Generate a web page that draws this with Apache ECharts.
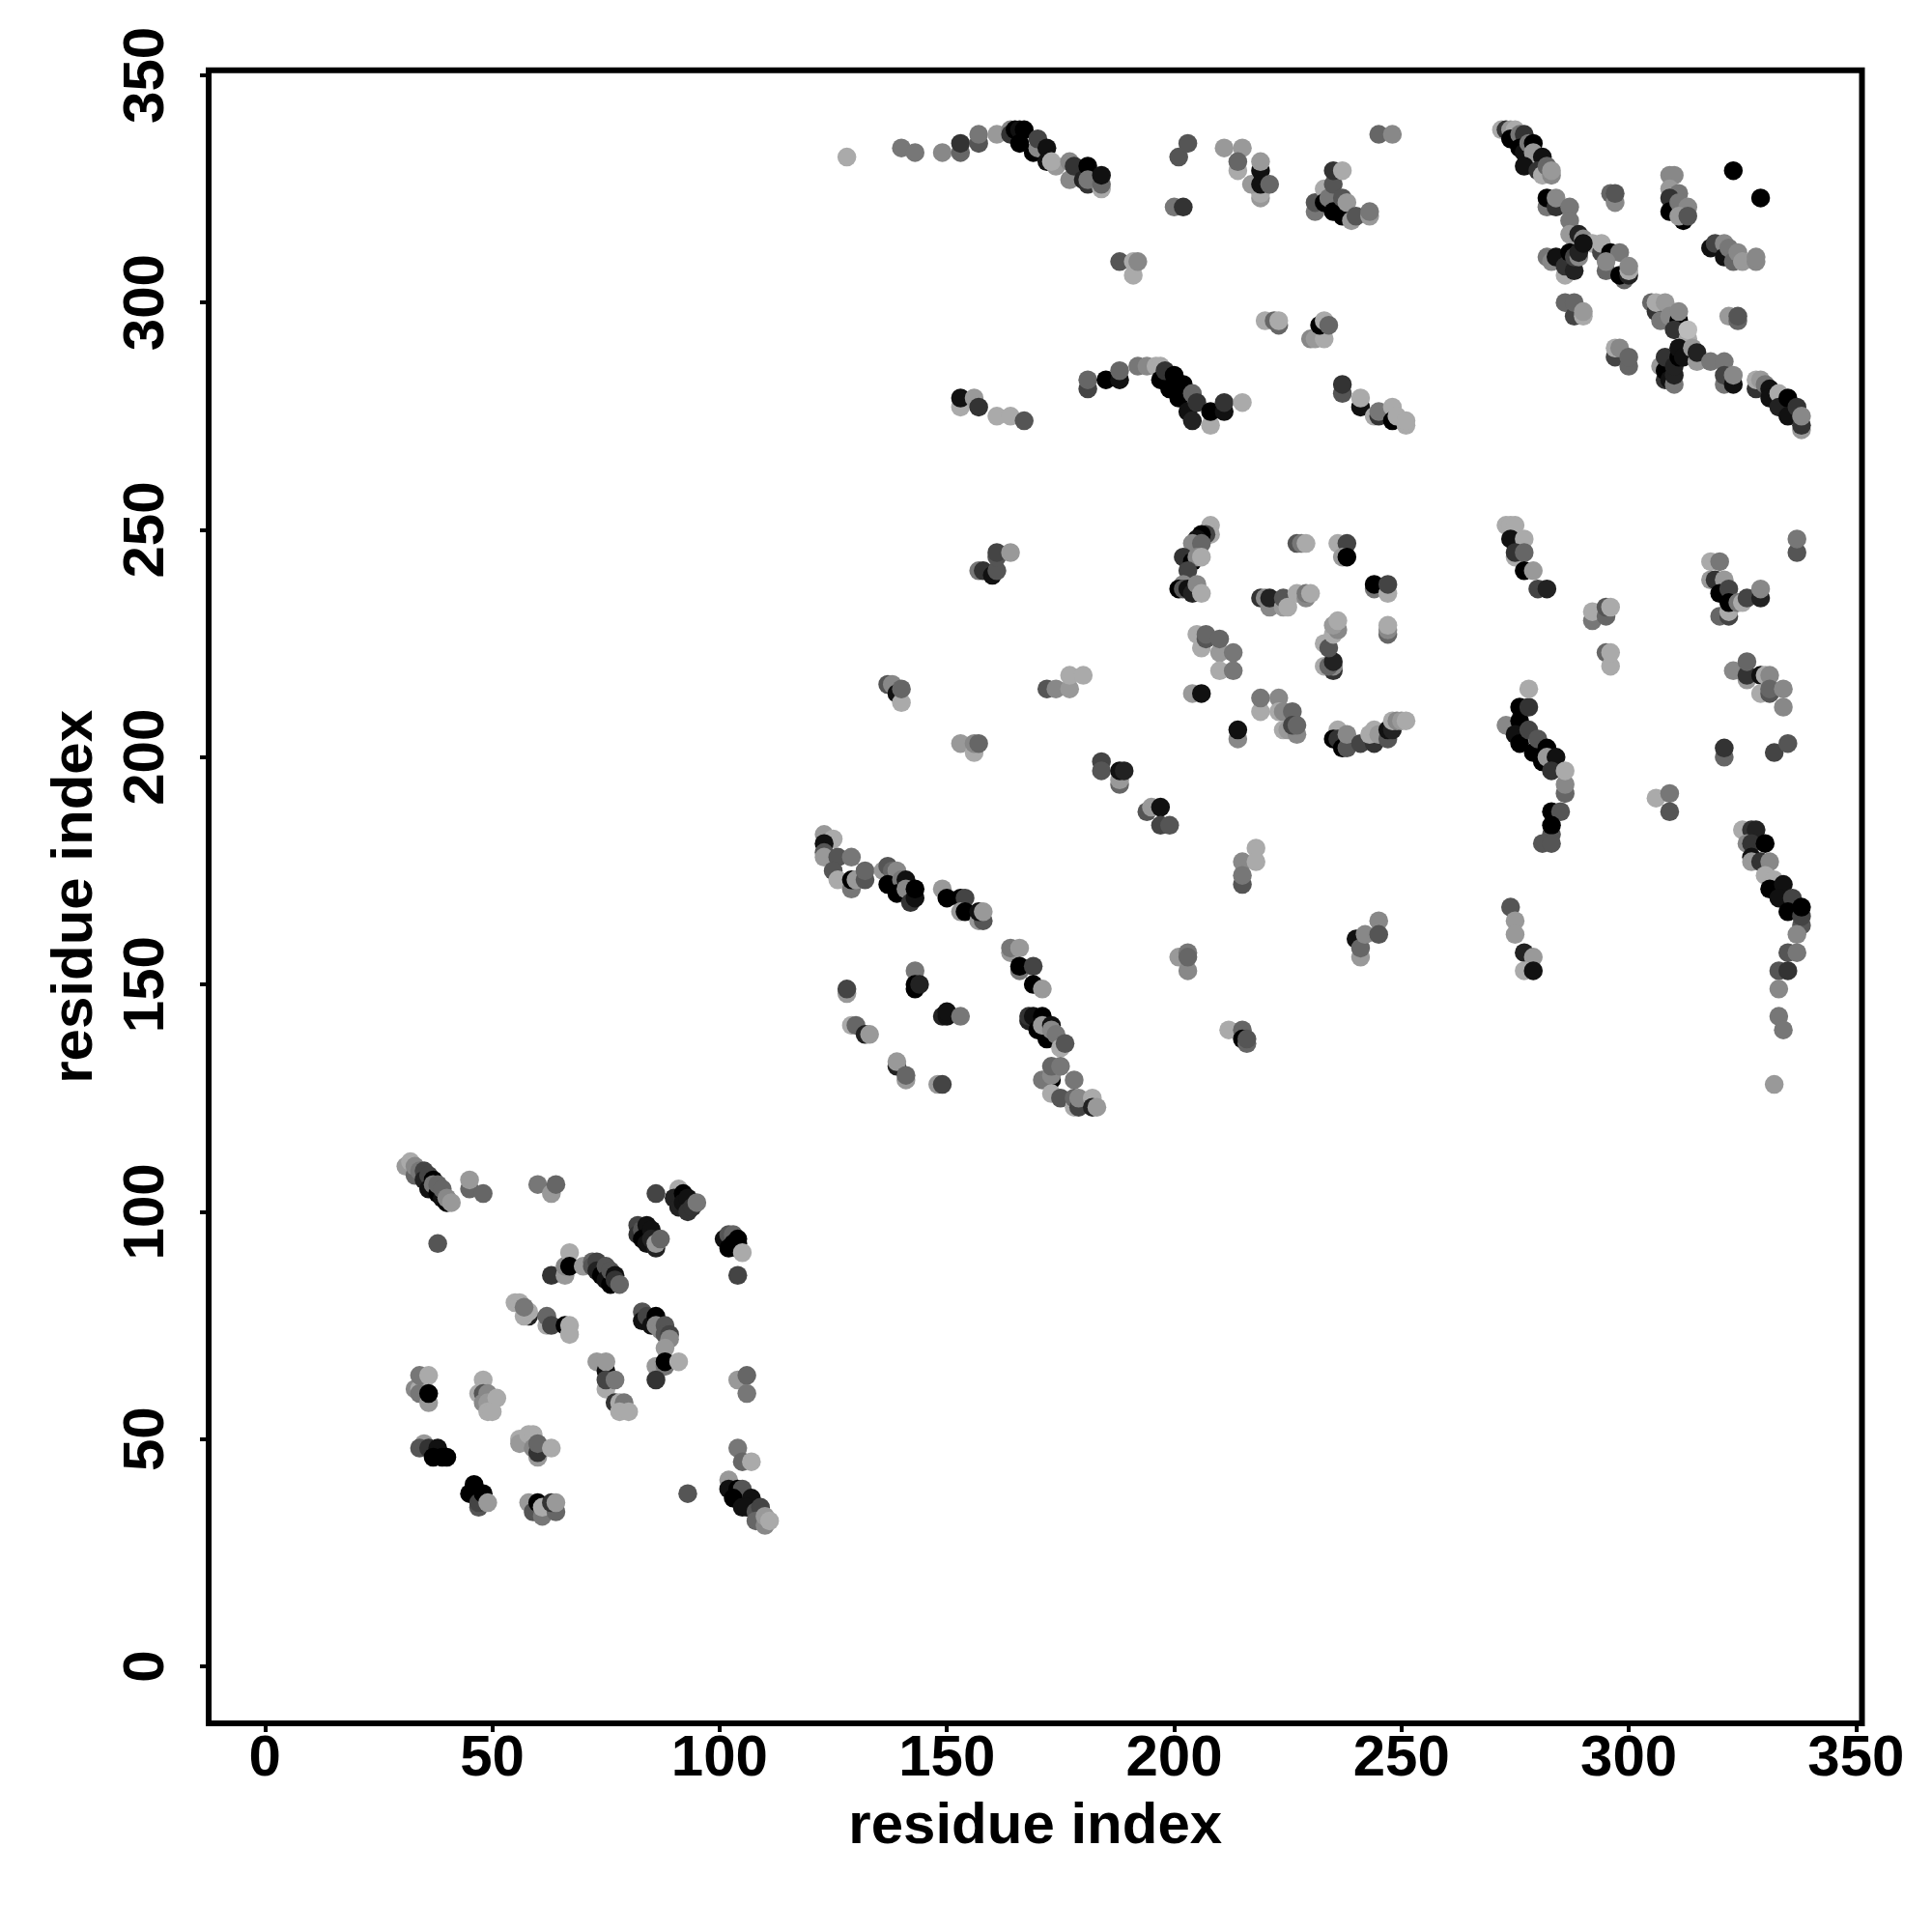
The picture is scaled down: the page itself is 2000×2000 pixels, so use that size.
<!DOCTYPE html>
<html><head><meta charset="utf-8">
<style>html,body{margin:0;padding:0;background:#fff}#c{width:2000px;height:2000px}</style>
<script src="https://cdn.jsdelivr.net/npm/echarts@6/dist/echarts.min.js"></script>
</head><body><div id="c"></div>
<script>
// each contact: [residue x, residue y, shade 0 (black) .. 11 (light grey)]
const tickValues=[0,50,100,150,200,250,300,350];
const axisTitle="residue index";
const blockLow=[
[31,110,9],[32,111,10],[33,108,6],[33,110,8],[34,109,7],[35,109,4],[35,107,2],[36,108,4],[36,105,1],[37,107,0],[37,106,7],[38,104,0],[38,106,6],[39,103,1],[39,105,6],[40,102,0],[40,103,8],[41,102,9],
[45,105,6],[45,107,9],[48,104,6],[60,106,7],[63,104,9],[64,106,6],[38,93,5],[86,104,4],
[91,105,10],[90,103,2],[92,104,0],[91,101,2],[92,102,1],[93,103,1],[93,100,3],[94,101,3],[95,102,7],
[82,97,4],[82,95,3],[83,96,5],[84,97,1],[83,94,0],[85,96,1],[84,93,1],[85,94,2],[86,92,2],[86,93,9],[87,94,6],
[101,94,1],[102,95,5],[103,95,6],[102,92,0],[103,93,0],[104,92,0],[104,94,0],[104,93,0],[105,91,10],[104,86,4],
[63,86,3],[66,86,9],[66,88,8],[67,91,10],[67,88,0],[70,88,9],[72,89,6],[72,88,5],[73,89,4],[73,87,2],[74,86,0],[75,88,5],[75,85,1],[76,84,0],[76,87,5],[77,86,1],[77,85,3],[78,84,6],
[55,80,10],[56,80,10],[58,77,2],[57,77,10],[58,78,10],[57,79,7],[62,75,10],[62,77,6],[63,75,4],[66,75,0],[67,75,10],[67,73,10],
[83,78,5],[83,76,1],[84,77,4],[85,75,1],[86,77,0],[86,75,8],[87,74,8],[88,75,5],[88,73,5],[89,73,4],[89,72,8],[88,70,9],[86,66,9],[88,66,7],[88,67,0],[91,67,10],[86,63,3],
[73,67,9],[75,65,1],[75,67,9],[75,61,10],[75,63,4],[77,63,7],[77,58,3],[78,58,10],[79,58,7],[78,56,10],[80,56,10],
[104,63,9],[106,64,6],[106,60,7],[104,48,7],[105,45,6],[107,45,10],[93,38,5],
[102,41,9],[102,39,1],[104,39,0],[105,39,5],[103,37,0],[105,35,1],[107,37,1],[106,35,1],[108,34,5],[109,35,4],[108,32,6],[110,31,8],[110,33,9],[111,32,10],
[33,61,8],[34,61,10],[34,64,7],[34,60,7],[36,58,9],[36,64,10],[36,60,0],
[48,63,10],[47,60,10],[48,60,5],[49,60,8],[48,58,8],[49,58,9],[49,56,10],[51,59,10],[50,56,10],
[56,50,10],[56,49,9],[58,51,10],[60,46,9],[59,51,10],[59,48,8],[60,47,3],[60,49,6],[63,48,10],
[35,49,9],[34,48,5],[36,48,3],[38,48,1],[37,46,0],[39,46,0],[40,46,0],
[46,40,0],[45,38,0],[47,35,5],[47,36,4],[48,38,0],[49,36,9],
[58,36,9],[59,34,5],[60,34,5],[60,36,0],[61,33,7],[61,35,10],[64,34,6],[63,36,3],[64,36,9]
];
const blockMid=[
[123,183,9],[125,182,10],[123,181,1],[123,179,5],[123,178,9],[126,178,5],[129,178,7],[125,175,5],[126,173,10],[129,171,7],[129,173,0],[130,173,9],[132,173,5],[132,175,6],
[136,175,9],[137,176,5],[138,175,6],[139,175,8],[137,172,0],[140,173,7],[139,170,0],[141,173,1],[141,171,8],[142,168,3],[143,169,1],[143,171,0],
[149,171,9],[150,169,0],[153,169,0],[154,169,4],[153,166,9],[154,166,0],[157,164,9],[158,164,5],[157,166,1],[158,166,9],
[164,157,9],[164,158,7],[166,158,9],[166,153,7],[166,154,0],[169,154,4],[169,150,0],[171,149,9],
[143,153,7],[143,149,0],[143,150,0],[144,150,2],[128,148,9],[128,149,4],[149,143,2],[150,143,1],[150,144,1],[153,143,7],
[129,141,10],[130,141,6],[132,139,2],[133,139,9],[139,132,2],[139,133,9],[141,129,9],[141,130,6],[148,128,9],[149,128,4],
[168,142,2],[168,143,3],[169,143,1],[171,143,0],[170,140,0],[172,138,0],[171,141,9],[173,141,1],[173,140,8],[174,139,7],[175,136,10],[176,137,5],
[173,129,0],[171,129,7],[173,130,8],[173,132,6],[175,132,7],[178,129,7],[173,126,10],[175,125,5],[178,123,10],[178,125,6],[179,123,4],[179,125,8],[182,125,10],[182,123,2],[183,123,9],
[194,188,5],[195,189,9],[197,189,1],[197,185,4],[199,185,5],[184,199,4],[184,197,5],[188,194,6],[188,195,9],[188,197,1],[189,197,2],
[218,180,10],[215,177,8],[218,177,10],[215,172,5],[215,174,7],
[201,156,9],[203,153,8],[203,157,7],[203,156,6],[212,140,10],[215,140,6],[215,138,0],[216,137,6],[216,138,5],
[208,251,10],[208,249,10],[207,249,4],[206,249,0],[205,248,1],[204,247,8],[206,247,6],[202,244,3],[204,243,0],[205,244,8],[206,244,10],[203,241,4],[202,238,8],[201,237,0],[202,237,5],[203,237,1],[204,236,2],[205,238,8],[206,236,10],
[227,247,5],[228,247,7],[229,247,10],[236,247,10],[238,247,4],[237,244,9],[238,244,0],[244,237,7],[244,238,0],[247,236,10],[247,238,4],[247,227,6],[247,228,8],[247,229,10],
[219,235,3],[220,235,8],[221,233,8],[221,235,2],[224,233,9],[224,235,5],[225,233,10],[227,236,10],[229,235,8],[229,236,7],[230,236,10],
[235,219,3],[235,220,8],[233,220,10],[234,220,6],[235,221,2],[233,225,10],[234,224,5],[235,227,10],[236,228,8],[235,229,9],[236,230,10],
[205,227,10],[206,224,10],[207,226,5],[207,227,6],[210,223,9],[210,226,6],[213,223,7],[210,219,10],[213,219,7],[204,214,9],[206,214,1],
[219,210,10],[219,213,7],[223,213,8],[223,210,10],[224,210,8],[226,210,6],[224,206,10],[225,206,9],[227,205,8],[226,207,4],[227,207,6],[214,204,8],[214,206,1],
[236,206,10],[235,204,0],[236,204,3],[237,202,0],[238,202,5],[238,205,8],[241,203,4],[244,203,3],[243,205,10],[244,206,10],[245,205,9],[247,204,5],[247,206,1],[248,206,2],[248,208,10],[249,208,8],[250,208,9],[251,208,10],
[240,160,1],[241,156,9],[241,158,6],[242,161,8],[245,164,8],[245,161,5],
[137,216,5],[138,216,8],[139,214,1],[140,212,10],[140,215,6],
[157,241,7],[158,241,3],[160,240,1],[161,241,5],[161,244,5],[161,245,4],[164,245,9],
[153,203,9],[156,201,10],[156,203,8],[157,203,6],[172,215,5],[174,215,8],[177,215,9],[177,218,10],[180,218,10]
];
const blockHigh=[
[272,338,10],[273,338,3],[274,338,9],[275,338,10],[274,336,0],[276,337,7],[277,337,3],[276,334,0],[277,333,1],[278,335,7],[279,335,0],[279,333,9],[281,332,1],[277,330,1],[280,329,3],[281,328,10],[282,330,6],[283,328,8],[283,329,9],
[282,321,7],[282,323,0],[284,321,3],[284,323,8],[287,321,7],[287,318,7],[287,315,9],[289,315,2],[290,314,8],[292,313,10],[294,311,4],[294,313,10],[296,311,0],[298,311,7],[295,307,6],[295,309,8],[299,305,6],[298,306,0],[300,306,2],[300,307,10],[300,308,8],
[282,310,7],[283,309,8],[284,310,1],[286,306,10],[286,308,3],[288,307,2],[287,311,0],[288,310,4],[289,310,8],[289,311,2],[290,313,1],
[296,324,6],[297,322,8],[297,324,5],
[309,328,8],[310,328,8],[309,325,9],[311,324,7],[309,323,3],[309,320,0],[311,322,7],[313,321,8],[312,318,0],[311,319,9],[313,319,5],
[323,329,0],[329,323,0],
[318,312,1],[319,313,4],[321,313,8],[321,310,1],[322,312,7],[323,309,6],[324,311,8],[325,309,9],[328,309,8],[328,310,8],
[286,300,6],[288,297,4],[288,300,6],[290,297,10],[290,298,9],
[305,300,6],[306,298,3],[306,300,10],[307,296,7],[308,300,9],[309,297,8],[311,296,0],[311,298,8],[310,294,3],[313,292,10],[313,294,11],[322,297,9],[324,296,6],[324,297,5],
[297,288,4],[297,290,10],[298,290,8],[300,286,6],[300,288,6],
[307,286,9],[308,283,3],[308,285,0],[308,288,3],[309,283,1],[310,282,7],[310,284,2],[310,286,2],[311,288,0],[311,290,1],[312,288,1],
[314,290,9],[315,287,9],[315,289,2],[318,287,7],[321,287,7],[321,282,7],[321,284,4],[323,282,1],[323,284,8],
[328,281,3],[328,283,10],[329,283,9],[330,282,7],[331,281,1],[331,279,1],[333,280,10],[333,277,2],[335,279,0],[335,275,1],[337,277,3],[338,272,9],[338,273,3],[338,275,8],
[128,332,10],[140,334,7],[143,333,7],[149,333,8],[153,333,6],[153,335,3],[157,335,5],[157,337,7],[161,337,9],
[164,338,8],[164,337,3],[165,338,0],[166,338,1],[167,338,0],[166,335,0],[169,333,0],[170,334,8],[170,336,4],[172,334,1],[172,331,1],[174,330,9],[173,331,10],
[177,327,8],[177,331,8],[178,330,3],[180,327,2],[181,330,0],[181,326,3],[181,327,7],[184,325,10],[184,326,6],[184,328,1],
[201,332,5],[203,335,5],[200,321,7],[202,321,3],[211,334,9],[215,334,9],[214,329,10],[214,331,6],[219,323,9],[219,324,10],[217,326,9],[219,329,1],[219,326,1],[219,331,9],[221,326,6],
[231,320,7],[231,322,5],[233,325,10],[233,322,0],[234,323,7],[235,320,0],[235,326,5],[235,329,3],[237,329,10],[237,319,0],[237,323,5],[238,322,9],[239,318,9],[240,319,5],[243,319,9],[243,320,7],[245,337,6],[248,337,8],
[188,309,5],[191,306,10],[191,309,10],[192,309,8],[220,296,10],[222,296,6],[223,295,6],[223,296,10],
[230,292,8],[231,292,9],[233,292,10],[232,295,0],[233,296,10],[234,295,6],
[153,277,10],[153,279,1],[156,279,9],[157,277,3],[161,275,10],[164,275,10],[167,274,5],
[181,281,4],[181,283,6],[185,283,0],[188,283,1],[188,285,6],
[192,286,7],[194,286,8],[196,286,10],[197,286,10],[197,283,0],[198,285,3],[199,281,0],[200,284,0],[201,279,0],[202,282,0],[203,276,1],[204,274,2],[204,280,6],[205,278,3],[208,273,10],[208,276,0],[211,276,1],[211,278,3],[215,278,10],
[237,280,5],[237,282,3],[241,277,1],[241,279,10],[244,275,10],[245,275,3],[245,276,7],[248,277,10],[248,274,0],[249,275,10],[251,273,10],[251,274,10]
];
const blockRight=[
[273,251,10],[274,251,10],[275,251,10],[274,248,1],[277,248,10],[275,244,10],[275,245,3],[277,245,6],[277,241,0],[279,241,9],[280,237,4],[282,237,2],
[292,230,7],[292,232,10],[295,231,6],[295,233,5],[296,233,10],[295,223,6],[296,220,10],[296,223,10],
[273,207,8],[276,208,0],[275,205,1],[276,203,0],[276,211,0],[278,211,3],[278,215,10],[278,206,4],[279,201,0],[280,204,5],[281,199,0],[282,202,0],[282,200,9],[284,200,1],[283,197,3],[286,192,6],[286,194,8],[286,197,10],
[283,188,0],[285,188,5],[283,183,5],[283,185,0],[281,181,5],[283,181,5],
[274,167,5],[275,164,9],[275,161,9],[277,157,2],[279,156,9],[277,153,10],[279,153,1],
[306,191,10],[309,192,7],[309,188,5],[337,245,5],[337,248,7],
[318,243,10],[320,243,7],[318,239,9],[319,239,3],[321,239,9],[320,236,0],[322,237,4],[320,231,6],[322,231,4],[322,232,10],[322,234,0],[324,234,7],[325,234,10],[326,235,4],[329,235,2],[329,237,8],
[323,219,8],[326,217,9],[326,218,3],[326,221,6],[329,218,1],[329,214,10],[330,218,10],[331,218,8],[331,214,5],[331,215,6],[334,215,8],[334,211,8],
[321,200,6],[321,202,3],[332,201,4],[335,203,5],
[325,184,10],[327,184,3],[328,184,2],[326,181,8],[327,181,3],[330,181,0],[327,178,1],[327,177,9],[329,177,3],[331,177,8],[330,174,10],[332,173,10],[331,171,0],[334,172,1],[333,169,1],[336,169,4],[335,166,0],[338,163,5],[338,165,4],[338,167,0],
[337,161,8],[335,157,5],[337,157,7],[333,153,5],[335,153,3],[333,149,8],[333,143,7],[334,140,7],[332,128,9]
];
const contacts=[...blockLow,...blockMid,...blockHigh,...blockRight];
const shadeColor=s=>{const v=Math.round(s*17);return `rgb(${v},${v},${v})`;};
const font='"Liberation Sans"';
const chart=echarts.init(document.getElementById('c'),null,{renderer:'canvas'});
const axisCommon=(gap,margin,rotate)=>({
  type:'value',name:axisTitle,nameLocation:'middle',nameGap:gap,
  nameTextStyle:{fontFamily:font,fontWeight:'bold',fontSize:60,color:'#000'},
  splitLine:{show:false},
  axisLine:{show:false,onZero:false},
  axisTick:{show:true,length:9,customValues:tickValues,lineStyle:{color:'#000',width:4}},
  axisLabel:{show:true,customValues:tickValues,margin:margin,rotate:rotate,fontFamily:font,fontWeight:'bold',fontSize:60,color:'#000',
    showMinLabel:true,showMaxLabel:true,hideOverlap:false}
});
chart.setOption({
  animation:false,backgroundColor:'#fff',
  grid:{show:true,left:216,top:72.7,width:1711.5,height:1711.3,borderColor:'#000',borderWidth:6,backgroundColor:'#fff'},
  xAxis:Object.assign(axisCommon(77,7,0),{min:-12.39,max:351.3}),
  yAxis:Object.assign(axisCommon(108,34,90),{min:-12.54,max:351.1}),
  series:[{type:'scatter',silent:true,symbol:'circle',symbolSize:19.5,data:contacts,
    encode:{x:0,y:1},
    itemStyle:{opacity:1,color:p=>shadeColor(p.value[2])}}]
});
</script></body></html>
